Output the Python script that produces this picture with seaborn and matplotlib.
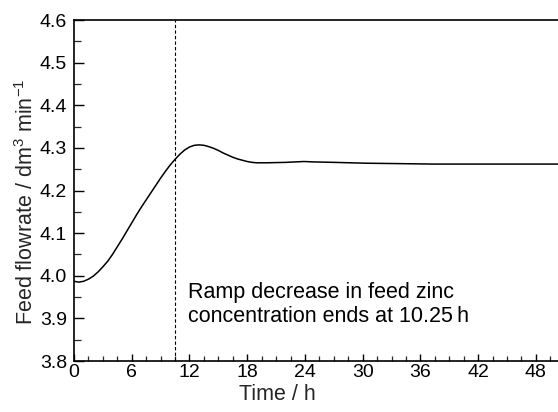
import numpy as np
import pandas as pd
import matplotlib
matplotlib.use("Agg")
import matplotlib.pyplot as plt
import seaborn as sns
from matplotlib.ticker import MultipleLocator

time_h = [0, 0.5, 1.0, 1.5, 2.0, 2.5, 3.0, 3.5, 4.0, 4.5, 5.0, 5.5, 6.0, 6.5,
          7.0, 7.5, 8.0, 8.5, 9.0, 9.5, 10.0, 10.5, 11.0, 11.5, 12.0, 12.5,
          13.0, 13.5, 14.0, 14.5, 15.0, 15.5, 16.0, 16.5, 17.0, 17.5, 18.0,
          18.5, 19.0, 20.0, 22.0, 23.9, 25.0, 27.0, 30.4, 34.0, 37.3, 42.0,
          46.0, 50.3]
flow = [3.987, 3.985, 3.987, 3.992, 3.999, 4.009, 4.021, 4.034, 4.050, 4.068,
        4.086, 4.105, 4.124, 4.143, 4.161, 4.178, 4.195, 4.212, 4.229, 4.245,
        4.260, 4.273, 4.285, 4.295, 4.302, 4.306, 4.307, 4.306, 4.303, 4.299,
        4.294, 4.288, 4.283, 4.278, 4.274, 4.271, 4.268, 4.266, 4.265, 4.265,
        4.266, 4.268, 4.267, 4.266, 4.264, 4.263, 4.262, 4.262, 4.262, 4.262]
ramp_end = 10.5
x_ticks = [0, 6, 12, 18, 24, 30, 36, 42, 48]
y_ticks = [3.8, 3.9, 4.0, 4.1, 4.2, 4.3, 4.4, 4.5, 4.6]
annotation = "Ramp decrease in feed zinc\nconcentration ends at 10.25\u2009h"
x_label = "Time / h"
y_label = "Feed flowrate / dm$^3$ min$^{-1}$"

df = pd.DataFrame({"time": time_h, "flow": flow})

sns.set_style("ticks")
plt.rcParams["font.family"] = ["Liberation Sans", "DejaVu Sans"]
plt.rcParams["mathtext.fontset"] = "custom"
plt.rcParams["mathtext.rm"] = "Liberation Sans"

fig = plt.figure(figsize=(5.58, 4.12), dpi=100)
ax = fig.add_axes([74 / 558, 1 - 361 / 412, (558 - 74) / 558, (361 - 20) / 412])

sns.lineplot(data=df, x="time", y="flow", ax=ax, color="black", linewidth=1.1)
ax.axvline(ramp_end, color="black", linestyle=(0, (3, 2)), linewidth=0.8)

ax.set_xlim(0, 50.3)
ax.set_ylim(3.8, 4.6)
ax.set_xticks(x_ticks)
ax.set_yticks(y_ticks)
ax.set_yticklabels([f"{v:.1f}" for v in y_ticks])
ax.xaxis.set_minor_locator(MultipleLocator(1.5))
ax.yaxis.set_minor_locator(MultipleLocator(0.05))
ax.tick_params(axis="both", which="major", direction="in", labelsize=14, width=1.0, pad=5,
               color="black", labelcolor="black")
ax.tick_params(axis="x", which="major", length=5, pad=2)
ax.tick_params(axis="y", which="major", length=7)
ax.tick_params(axis="x", which="minor", direction="in", length=3.5, width=0.9)
ax.tick_params(axis="y", which="minor", direction="in", length=5, width=0.9)

for side in ["left", "bottom", "top"]:
    ax.spines[side].set_visible(True)
    ax.spines[side].set_linewidth(1.2)
    ax.spines[side].set_color("black")
ax.spines["right"].set_visible(False)

ax.set_xlabel(x_label, fontsize=15.5)
ax.set_ylabel(y_label, fontsize=15.5)
ax.xaxis.set_label_coords(0.42, -0.068)
ax.yaxis.set_label_coords(-0.074, 0.466)

ax.text(11.8, 3.985, annotation, fontsize=15.5, va="top", ha="left",
        linespacing=1.2, color="black")

fig.savefig("out.png", dpi=100)
